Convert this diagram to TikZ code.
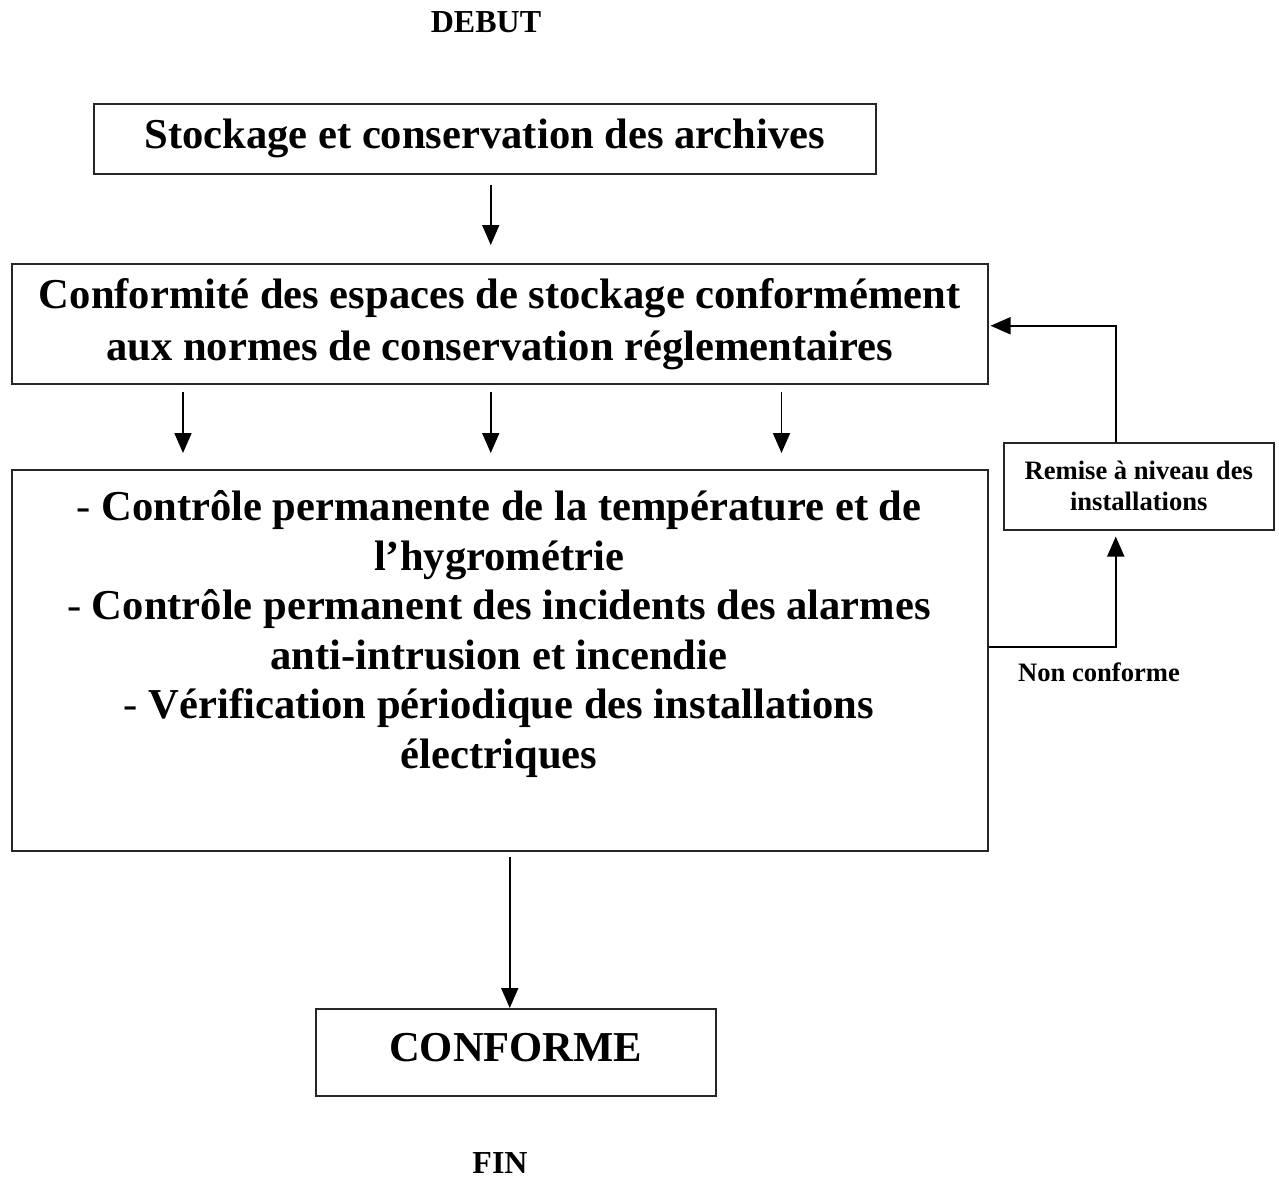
\documentclass[tikz,border=0pt]{standalone}
\usepackage{fontspec}
\setmainfont{Liberation Serif}
\usetikzlibrary{arrows.meta}

\tikzset{
  frame/.style={draw=black!85, line width=0.75pt, inner sep=0pt, anchor=north west},
  link/.style={line width=0.9pt, -{Triangle[length=10pt,width=8.5pt]}},
  bigtext/.style={font=\fontsize{21.3}{26}\selectfont\bfseries, align=center},
  listtext/.style={font=\fontsize{21.3}{24.8}\selectfont\bfseries, align=center, inner sep=0pt},
  smalltext/.style={font=\fontsize{13.3}{15.5}\selectfont\bfseries, align=center},
  marker/.style={font=\fontsize{16}{19}\selectfont\bfseries, inner sep=0pt},
}

\begin{document}
\begin{tikzpicture}[x=0.5pt, y=-0.5pt]
  % page area
  \fill[white] (0,0) rectangle (1279,1200);
  \path[use as bounding box] (0,0) rectangle (1279,1200);

  % start and end markers
  \node[marker] (debut) at (486,22) {DEBUT};
  \node[marker] (fin) at (500,1163) {FIN};

  % storage box
  \node[frame, bigtext, minimum width=391pt, minimum height=35pt] (store) at (93,103)
    {Stockage et conservation des archives};

  % compliance of the storage spaces
  \node[frame, bigtext, minimum width=488pt, minimum height=60pt] (norms) at (11,263)
    {Conformité des espaces de stockage conformément\\aux normes de conservation réglementaires};

  % monitoring box and its list
  \node[frame, minimum width=488pt, minimum height=190.5pt] (checks) at (11,469) {};
  \node[listtext, anchor=north] (checklist) at (499,490)
    {{\mdseries -} Contrôle permanente de la température et de\\
     l’hygrométrie\\
     {\mdseries -} Contrôle permanent des incidents des alarmes\\
     anti-intrusion et incendie\\
     {\mdseries -} Vérification périodique des installations\\
     électriques};

  % upgrade box on the right
  \node[frame, smalltext, minimum width=135pt, minimum height=43.5pt] (upgrade) at (1003,442)
    {Remise à niveau des\\installations};

  % result box
  \node[frame, bigtext, minimum width=200pt, minimum height=43.5pt, text depth=5pt] (ok) at (315,1008)
    {CONFORME};

  % main flow
  \draw[link] ([xshift=3pt,yshift=-5pt]store.south) -- ([xshift=-4.5pt,yshift=9pt]norms.north);

  \draw[link] ([xshift=86pt,yshift=-3.5pt]norms.south west) -- ([xshift=86pt,yshift=8pt]checks.north west);
  \draw[link] ([xshift=-4.5pt,yshift=-3.5pt]norms.south) -- ([xshift=-4.5pt,yshift=8pt]checks.north);
  \draw[link] ([xshift=-103.5pt,yshift=-3.5pt]norms.south east) -- ([xshift=-103.5pt,yshift=8pt]checks.north east);

  \draw[link] ([xshift=5pt,yshift=-2.5pt]checks.south) -- ([xshift=-3pt]ok.north);

  % correction loop
  \draw[link] ([yshift=6.5pt]checks.east) -| ([xshift=-11.5pt,yshift=-3pt]upgrade.south);
  \draw[link] ([xshift=-11.5pt]upgrade.north) |- ([xshift=1pt,yshift=-1pt]norms.east);
  \node[smalltext] (nonconf) at (1099,672) {Non conforme};
\end{tikzpicture}
\end{document}
